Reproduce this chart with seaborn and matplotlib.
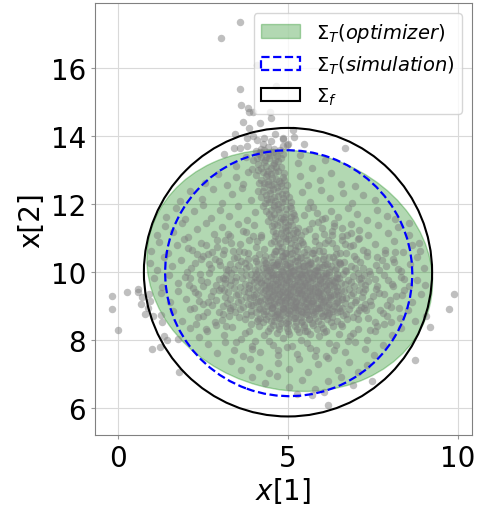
import pandas as pd
import matplotlib
matplotlib.use("Agg")
import matplotlib.pyplot as plt
from matplotlib.patches import Ellipse
import seaborn as sns

# ---- data ----
# ellipses: (center_x, center_y, width, height, angle)
ell_optimizer = (5.05, 10.05, 8.5, 7.0, -15)
ell_simulation = (5.02, 9.97, 7.28, 7.22, -20)
ell_final = (5.0, 10.0, 8.48, 8.48, 0)

# sample points, grouped by region of the cloud
outlier_pts = [
    (3.58, 17.34), (3.02, 16.87), (3.6, 15.38), (4.10, 16.09), (4.66, 15.48),
    (3.63, 14.91), (3.82, 14.83), (3.85, 14.7), (3.98, 14.71), (4.48, 14.7),
    (4.5, 14.53), (3.69, 14.4), (4.18, 14.38), (3.85, 14.24), (3.43, 14.05),
    (4.63, 14.07), (4.86, 13.93), (3.80, 13.95), (3.98, 13.99), (4.08, 13.88),
    (4.30, 13.93), (4.5, 13.86), (4.25, 13.76), (3.40, 13.64), (3.59, 13.64),
    (3.80, 13.71), (3.13, 13.47), (4.84, 13.71), (5.01, 13.76), (5.16, 14.19),
    (5.18, 13.96), (5.47, 13.76), (4.84, 13.91), (4.96, 13.74), (6.67, 13.64),
    (5.3, 13.22),
    (-0.18, 9.30), (-0.17, 8.93), (0.0, 8.31), (0.26, 9.42), (0.59, 9.5),
    (0.6, 9.42), (0.70, 9.26), (0.67, 9.07), (0.92, 9.36), (0.80, 8.78),
    (1.02, 8.71), (1.25, 8.73), (1.34, 8.13), (1.45, 8.01), (1.01, 7.74),
    (1.24, 7.79), (1.79, 7.08), (1.75, 8.03), (1.30, 8.55), (0.94, 9.16),
    (0.87, 8.96),
    (9.89, 9.36), (9.75, 8.91), (9.19, 8.40), (8.75, 7.41), (6.17, 6.09),
    (7.46, 6.80), (9.05, 8.71), (8.86, 10.87), (8.57, 11.44),
]

column_pts = [
    (4.05, 13.55), (4.3, 13.6), (4.55, 13.52), (4.75, 13.58), (4.2, 13.4),
    (4.45, 13.35), (4.68, 13.42), (3.98, 13.3), (4.12, 13.18), (4.35, 13.12),
    (4.58, 13.2), (4.8, 13.1), (4.25, 12.95), (4.5, 12.9), (4.72, 12.98),
    (4.05, 12.85), (4.2, 12.72), (4.42, 12.68), (4.65, 12.75), (4.88, 12.7),
    (4.3, 12.5), (4.55, 12.45), (4.78, 12.52), (4.12, 12.4), (4.35, 12.28),
    (4.6, 12.22), (4.82, 12.3), (5.02, 12.2), (4.45, 12.05), (4.7, 12.0),
    (4.92, 12.08), (4.25, 11.95), (4.5, 11.82), (4.73, 11.78), (4.95, 11.85),
    (5.15, 11.75), (4.62, 11.6), (4.85, 11.55), (5.08, 11.62), (4.4, 11.5),
    (4.68, 11.38), (4.9, 11.32), (5.12, 11.4), (5.3, 11.3), (4.55, 11.2),
    (4.8, 11.15), (5.02, 11.1), (5.25, 11.18), (4.7, 10.98), (4.95, 10.92),
    (5.18, 10.99), (5.4, 10.9), (4.5, 10.85), (4.82, 10.75), (5.05, 10.7),
    (5.3, 10.78), (5.55, 10.68), (4.65, 10.62),
    (4.15, 13.47), (4.4, 13.5), (4.62, 13.3), (4.3, 13.25), (4.5, 13.05),
    (4.35, 12.82), (4.6, 12.6), (4.4, 12.58), (4.7, 12.38), (4.5, 12.15),
    (4.8, 11.92), (4.6, 11.7), (4.95, 11.7), (4.75, 11.47), (5.0, 11.25),
    (4.85, 11.05), (5.1, 10.85), (4.9, 10.55),
    (4.22, 13.62), (4.48, 13.45), (4.6, 13.62), (4.85, 13.48), (4.1, 13.35),
    (4.35, 13.4), (4.72, 13.28), (4.2, 13.05), (4.4, 12.98), (4.65, 13.08),
    (4.88, 12.92), (4.15, 12.62), (4.52, 12.78), (4.78, 12.62), (4.25, 12.38),
    (4.48, 12.33), (4.68, 12.5), (4.92, 12.42), (4.38, 12.15), (4.62, 12.1),
    (4.85, 12.18), (5.1, 12.05), (4.35, 11.8), (4.6, 11.92), (4.88, 11.62),
    (5.05, 11.95), (4.5, 11.62), (5.22, 11.55), (4.58, 11.42), (4.82, 11.28),
    (5.05, 11.5), (5.2, 11.02), (4.62, 11.05), (4.95, 11.2), (5.38, 11.1),
    (4.75, 10.85), (5.0, 10.98), (5.25, 10.62), (5.45, 10.82), (4.8, 10.62),
    (4.18, 13.52), (4.42, 13.68), (4.66, 13.5), (4.32, 13.3), (4.55, 13.15),
    (4.78, 13.35), (4.12, 13.0), (4.38, 12.88), (4.62, 12.95), (4.85, 12.8),
    (4.28, 12.62), (4.51, 12.55), (4.74, 12.68), (4.96, 12.55), (4.22, 12.22),
    (4.46, 12.42), (4.7, 12.25), (4.95, 12.3), (4.32, 12.02), (4.58, 11.98),
    (4.82, 12.05), (5.08, 11.88), (4.45, 11.7), (4.7, 11.85), (4.92, 11.48),
    (5.18, 11.68), (4.52, 11.35), (4.78, 11.6), (5.0, 11.38), (5.22, 11.25),
    (4.65, 11.15), (4.9, 11.0), (5.14, 11.15), (5.35, 10.95), (4.58, 10.92),
    (4.85, 10.48), (5.12, 10.55), (5.38, 10.45), (4.7, 10.78), (5.2, 10.8),
    (5.6, 11.9), (5.85, 11.75), (6.1, 11.6), (6.35, 11.45), (6.6, 11.3),
    (6.85, 11.15), (7.1, 11.0), (5.7, 11.45), (6.0, 11.3), (6.3, 11.1),
    (6.6, 10.95), (6.9, 10.8), (7.2, 10.65), (5.5, 11.2), (5.8, 11.05),
    (6.1, 10.85), (6.4, 10.7), (6.7, 10.55),
    (3.7, 10.6), (4.05, 10.75), (3.85, 10.95), (4.2, 11.1), (3.5, 10.45),
    (5.7, 10.55), (5.9, 10.8), (6.2, 10.45), (6.5, 10.3),
]

core_pts = [
    (4.62, 10.63), (4.95, 10.57), (5.21, 10.66), (5.48, 10.59), (5.77, 10.64),
    (4.33, 10.47), (4.58, 10.54), (4.81, 10.48), (5.05, 10.53), (5.26, 10.45),
    (5.52, 10.51), (5.74, 10.55), (6.05, 10.48),
    (4.02, 10.42), (4.29, 10.37), (4.51, 10.44), (4.7, 10.36), (4.92, 10.41),
    (5.13, 10.38), (5.34, 10.43), (5.57, 10.35), (5.79, 10.42), (6.03, 10.39), (6.33, 10.44),
    (3.74, 10.27), (4.05, 10.33), (4.31, 10.26), (4.52, 10.31), (4.68, 10.25),
    (4.88, 10.34), (5.06, 10.28), (5.27, 10.32), (5.45, 10.26), (5.66, 10.3),
    (5.88, 10.35), (6.1, 10.27), (6.38, 10.32), (6.66, 10.29),
    (3.53, 10.22), (3.86, 10.17), (4.12, 10.24), (4.36, 10.15), (4.55, 10.21),
    (4.73, 10.18), (4.91, 10.25), (5.1, 10.16), (5.29, 10.22), (5.47, 10.19),
    (5.66, 10.24), (5.85, 10.15), (6.05, 10.21), (6.27, 10.18), (6.52, 10.23), (6.85, 10.17),
    (3.42, 10.08), (3.75, 10.13), (4.04, 10.06), (4.27, 10.12), (4.44, 10.05),
    (4.6, 10.14), (4.78, 10.08), (4.95, 10.11), (5.12, 10.04), (5.3, 10.13),
    (5.47, 10.07), (5.64, 10.12), (5.82, 10.05), (6.01, 10.14), (6.2, 10.08),
    (6.42, 10.11), (6.68, 10.06), (6.97, 10.12),
    (3.31, 9.98), (3.62, 10.03), (3.9, 9.96), (4.13, 10.04), (4.33, 9.97),
    (4.5, 10.02), (4.66, 9.95), (4.82, 10.04), (4.99, 9.99), (5.15, 10.03),
    (5.32, 9.96), (5.49, 10.01), (5.66, 9.97), (5.84, 10.04), (6.02, 9.98),
    (6.21, 10.02), (6.44, 9.95), (6.71, 10.03), (7.05, 9.99),
    (3.18, 9.92), (3.47, 9.87), (3.76, 9.93), (4.02, 9.86), (4.24, 9.91),
    (4.41, 9.88), (4.57, 9.94), (4.73, 9.86), (4.89, 9.92), (5.05, 9.87),
    (5.21, 9.93), (5.37, 9.88), (5.53, 9.91), (5.7, 9.85), (5.86, 9.93),
    (6.03, 9.89), (6.21, 9.92), (6.4, 9.86), (6.63, 9.94), (6.92, 9.88), (7.24, 9.91),
    (3.33, 9.78), (3.64, 9.83), (3.92, 9.76), (4.16, 9.82), (4.33, 9.77),
    (4.49, 9.84), (4.65, 9.76), (4.8, 9.81), (4.96, 9.78), (5.12, 9.83),
    (5.28, 9.75), (5.44, 9.82), (5.6, 9.79), (5.76, 9.84), (5.93, 9.77),
    (6.1, 9.82), (6.29, 9.76), (6.5, 9.83), (6.76, 9.78), (7.08, 9.81),
    (3.14, 9.68), (3.45, 9.73), (3.73, 9.66), (3.99, 9.72), (4.21, 9.67),
    (4.38, 9.74), (4.54, 9.66), (4.7, 9.71), (4.86, 9.68), (5.02, 9.73),
    (5.18, 9.65), (5.34, 9.72), (5.5, 9.69), (5.66, 9.74), (5.82, 9.66),
    (5.99, 9.71), (6.17, 9.67), (6.36, 9.73), (6.57, 9.68), (6.84, 9.72), (7.15, 9.67),
    (3.28, 9.62), (3.58, 9.57), (3.86, 9.63), (4.1, 9.56), (4.29, 9.61),
    (4.45, 9.58), (4.61, 9.64), (4.77, 9.56), (4.93, 9.62), (5.09, 9.57),
    (5.25, 9.63), (5.41, 9.58), (5.57, 9.61), (5.73, 9.55), (5.89, 9.63),
    (6.06, 9.58), (6.24, 9.62), (6.44, 9.56), (6.67, 9.64), (6.95, 9.58), (7.27, 9.61),
    (3.12, 9.48), (3.41, 9.53), (3.7, 9.46), (3.97, 9.52), (4.19, 9.47),
    (4.36, 9.54), (4.52, 9.46), (4.68, 9.51), (4.84, 9.48), (5.0, 9.53),
    (5.16, 9.45), (5.32, 9.52), (5.48, 9.49), (5.64, 9.54), (5.8, 9.46),
    (5.97, 9.51), (6.15, 9.47), (6.34, 9.53), (6.55, 9.48), (6.8, 9.52), (7.1, 9.47),
    (3.24, 9.42), (3.54, 9.37), (3.82, 9.43), (4.07, 9.36), (4.27, 9.41),
    (4.43, 9.38), (4.59, 9.44), (4.75, 9.36), (4.91, 9.42), (5.07, 9.37),
    (5.23, 9.43), (5.39, 9.38), (5.55, 9.41), (5.71, 9.35), (5.87, 9.43),
    (6.04, 9.38), (6.22, 9.42), (6.42, 9.36), (6.64, 9.44), (6.91, 9.38), (7.22, 9.41),
    (3.15, 9.28), (3.46, 9.33), (3.75, 9.26), (4.01, 9.32), (4.22, 9.27),
    (4.38, 9.34), (4.54, 9.26), (4.7, 9.31), (4.86, 9.28), (5.02, 9.33),
    (5.18, 9.25), (5.34, 9.32), (5.5, 9.29), (5.66, 9.34), (5.82, 9.26),
    (5.99, 9.31), (6.17, 9.27), (6.36, 9.33), (6.58, 9.28), (6.85, 9.32), (7.17, 9.27),
    (3.3, 9.22), (3.61, 9.17), (3.89, 9.23), (4.13, 9.16), (4.31, 9.21),
    (4.47, 9.18), (4.63, 9.24), (4.79, 9.16), (4.95, 9.22), (5.11, 9.17),
    (5.27, 9.23), (5.43, 9.18), (5.59, 9.21), (5.75, 9.15), (5.91, 9.23),
    (6.08, 9.18), (6.27, 9.22), (6.48, 9.16), (6.72, 9.24), (7.01, 9.18),
    (3.21, 9.08), (3.52, 9.13), (3.81, 9.06), (4.06, 9.12), (4.26, 9.07),
    (4.42, 9.14), (4.58, 9.06), (4.74, 9.11), (4.9, 9.08), (5.06, 9.13),
    (5.22, 9.05), (5.38, 9.12), (5.54, 9.09), (5.7, 9.14), (5.86, 9.06),
    (6.03, 9.11), (6.22, 9.07), (6.43, 9.13), (6.67, 9.08), (6.96, 9.12), (7.26, 9.07),
    (3.37, 9.02), (3.68, 8.97), (3.96, 9.03), (4.19, 8.96), (4.37, 9.01),
    (4.53, 8.98), (4.69, 9.04), (4.85, 8.96), (5.01, 9.02), (5.17, 8.97),
    (5.33, 9.03), (5.49, 8.98), (5.65, 9.01), (5.81, 8.95), (5.98, 9.03),
    (6.16, 8.98), (6.36, 9.02), (6.59, 8.96), (6.86, 9.04), (7.15, 8.98),
    (3.29, 8.88), (3.6, 8.93), (3.9, 8.86), (4.15, 8.92), (4.35, 8.87),
    (4.52, 8.94), (4.69, 8.86), (4.86, 8.91), (5.03, 8.88), (5.2, 8.93),
    (5.37, 8.85), (5.54, 8.92), (5.71, 8.89), (5.89, 8.94), (6.08, 8.86),
    (6.29, 8.91), (6.53, 8.87), (6.8, 8.93), (7.1, 8.88),
    (3.45, 8.82), (3.77, 8.77), (4.05, 8.83), (4.29, 8.76), (4.49, 8.81),
    (4.67, 8.78), (4.85, 8.84), (5.03, 8.76), (5.21, 8.82), (5.39, 8.77),
    (5.57, 8.83), (5.76, 8.78), (5.96, 8.81), (6.18, 8.75), (6.43, 8.83),
    (6.72, 8.78), (7.02, 8.81),
    (3.56, 8.68), (3.9, 8.73), (4.18, 8.66), (4.42, 8.72), (4.63, 8.67),
    (4.82, 8.74), (5.01, 8.66), (5.2, 8.71), (5.39, 8.68), (5.59, 8.73),
    (5.8, 8.65), (6.03, 8.72), (6.3, 8.67), (6.61, 8.73), (6.92, 8.68),
    (3.74, 8.62), (4.08, 8.57), (4.36, 8.63), (4.59, 8.56), (4.8, 8.61),
    (5.0, 8.58), (5.2, 8.64), (5.41, 8.56), (5.63, 8.62), (5.87, 8.57),
    (6.14, 8.63), (6.45, 8.58), (6.75, 8.61),
    (3.92, 8.48), (4.27, 8.53), (4.55, 8.46), (4.79, 8.52), (5.01, 8.47),
    (5.23, 8.54), (5.46, 8.46), (5.7, 8.51), (5.97, 8.48), (6.27, 8.53), (6.56, 8.47),
    (4.14, 8.42), (4.47, 8.37), (4.74, 8.43), (4.98, 8.36), (5.22, 8.41),
    (5.47, 8.38), (5.73, 8.44), (6.02, 8.36), (6.33, 8.42),
    (4.41, 8.28), (4.73, 8.33), (5.0, 8.26), (5.27, 8.32), (5.55, 8.27),
    (5.85, 8.33), (6.12, 8.28),
    (4.69, 8.22), (5.02, 8.17), (5.33, 8.23), (5.66, 8.18),
]

core_dense_pts = [
    (4.47, 9.63), (4.63, 9.47), (4.79, 9.58), (4.96, 9.43), (5.13, 9.66), (5.29, 9.49),
    (5.46, 9.61), (5.62, 9.44), (5.79, 9.57), (5.95, 9.46), (6.12, 9.62),
    (4.41, 9.27), (4.58, 9.12), (4.74, 9.35), (4.91, 9.19), (5.08, 9.31), (5.24, 9.14),
    (5.41, 9.36), (5.57, 9.22), (5.74, 9.09), (5.9, 9.29), (6.07, 9.16), (6.25, 9.34),
    (4.52, 8.96), (4.7, 8.83), (4.88, 9.01), (5.06, 8.87), (5.24, 8.98), (5.42, 8.84),
    (5.6, 9.0), (5.78, 8.86), (5.97, 8.99), (6.15, 8.82),
    (4.55, 9.84), (4.72, 9.95), (4.9, 9.79), (5.07, 9.93), (5.25, 9.8), (5.42, 9.96),
    (5.6, 9.82), (5.77, 9.94), (5.95, 9.81), (6.13, 9.9),
    (4.38, 10.05), (4.65, 10.2), (4.86, 10.02), (5.05, 10.18), (5.33, 10.09),
    (5.58, 10.21), (5.8, 10.03),
    (3.85, 9.55), (3.98, 9.28), (4.1, 9.78), (6.45, 9.45), (6.6, 9.2), (6.38, 9.7),
    (3.9, 9.05), (6.5, 8.95),
    (4.05, 9.95), (4.22, 9.72), (4.31, 9.48), (4.18, 9.15), (4.27, 8.85), (4.12, 8.62),
    (4.36, 10.27), (4.48, 10.12), (4.54, 9.92), (4.43, 9.55), (4.56, 9.32), (4.46, 9.05),
    (4.61, 8.75), (4.5, 8.58), (4.72, 10.31), (4.78, 9.88), (4.69, 9.66), (4.81, 9.41),
    (4.76, 9.18), (4.84, 8.95), (4.73, 8.66), (4.97, 10.21), (5.02, 9.97), (4.95, 9.71),
    (5.05, 9.52), (4.98, 9.27), (5.08, 9.05), (5.01, 8.79), (4.94, 8.52), (5.21, 10.33),
    (5.18, 10.07), (5.26, 9.85), (5.2, 9.6), (5.29, 9.39), (5.23, 9.12), (5.3, 8.9),
    (5.19, 8.66), (5.44, 10.17), (5.39, 9.93), (5.47, 9.71), (5.41, 9.5), (5.5, 9.24),
    (5.44, 9.02), (5.52, 8.77), (5.38, 8.55), (5.68, 10.27), (5.63, 10.01), (5.71, 9.78),
    (5.65, 9.56), (5.74, 9.33), (5.68, 9.08), (5.75, 8.83), (5.62, 8.62), (5.92, 10.14),
    (5.87, 9.89), (5.95, 9.67), (5.89, 9.42), (5.98, 9.2), (5.91, 8.94), (5.99, 8.7),
    (6.15, 10.23), (6.12, 9.97), (6.2, 9.74), (6.14, 9.52), (6.23, 9.28), (6.17, 9.04),
    (6.22, 8.8), (6.38, 10.05), (6.45, 9.82), (6.36, 9.58), (6.47, 9.33), (6.4, 9.1),
    (6.33, 8.87), (6.52, 10.28),
]

mid_pts = [
    (2.05, 10.71), (2.31, 10.52), (2.58, 10.79), (2.84, 10.38), (3.11, 10.66), (3.3, 10.23),
    (2.15, 10.12), (2.42, 9.94), (2.69, 10.25), (2.96, 9.81), (3.22, 10.05), (2.08, 9.63),
    (2.35, 9.35), (2.61, 9.72), (2.89, 9.18), (3.02, 9.55), (2.22, 8.95), (2.49, 8.71),
    (2.77, 9.04), (3.05, 8.6), (2.3, 8.48), (2.58, 8.32), (2.97, 8.83), (3.18, 8.42),
    (2.45, 10.4), (2.77, 10.58), (3.0, 10.2), (2.51, 9.58), (2.8, 9.45), (3.14, 9.8),
    (2.12, 9.82), (2.65, 9.12), (3.26, 8.72), (2.37, 9.15), (2.92, 10.96),
    (7.32, 10.48), (7.58, 10.22), (7.85, 10.55), (8.12, 10.31), (7.41, 9.94), (7.69, 10.06),
    (7.95, 9.77), (8.23, 10.09), (7.28, 9.51), (7.55, 9.79), (7.81, 9.37), (8.08, 9.58),
    (8.35, 9.32), (7.45, 9.05), (7.72, 8.88), (7.99, 9.19), (8.26, 8.95), (7.36, 8.65),
    (7.63, 8.41), (7.9, 8.72), (7.2, 10.12), (7.5, 9.3), (7.78, 10.35), (8.02, 8.55),
    (7.25, 8.95), (7.62, 9.6), (8.4, 9.8), (7.14, 9.82), (7.4, 8.3), (8.15, 10.6),
    (3.72, 8.21), (4.03, 7.98), (4.29, 8.15), (4.56, 7.86), (4.84, 8.07), (5.11, 7.83),
    (5.38, 8.02), (5.64, 7.78), (5.92, 8.12), (6.21, 7.91), (6.49, 8.18), (6.77, 7.97),
    (3.95, 7.75), (4.7, 7.72), (5.5, 8.28), (6.05, 8.25), (6.35, 7.7), (3.48, 7.95),
    (6.9, 8.2), (5.8, 7.55),
    (3.08, 10.52), (3.33, 10.86), (3.55, 10.62), (3.81, 10.39), (3.96, 11.05), (3.24, 11.12),
    (3.69, 11.21), (4.15, 10.52), (5.92, 10.62), (6.18, 10.96), (6.41, 10.52), (6.68, 10.84),
    (6.95, 10.49), (6.28, 11.22), (6.75, 11.1), (7.0, 10.38),
]

spread_pts = [
    (3.48, 13.12), (3.77, 13.38), (5.36, 13.44), (5.71, 13.07), (6.08, 13.29), (3.95, 13.02),
    (2.55, 12.61), (2.93, 12.88), (3.21, 12.55), (3.47, 12.79), (3.82, 12.93), (3.68, 12.58),
    (5.35, 12.83), (5.58, 12.56), (5.94, 12.71), (6.27, 12.92), (6.55, 12.6), (6.98, 12.52),
    (1.83, 12.09), (2.12, 12.38), (2.47, 12.16), (2.78, 12.44), (3.05, 12.03), (3.36, 12.29),
    (3.64, 12.47), (3.91, 12.12), (5.42, 12.35), (5.66, 12.07), (5.97, 12.41), (6.23, 12.19),
    (6.61, 12.33), (6.88, 12.04), (7.21, 12.27), (7.55, 12.11),
    (1.42, 11.63), (1.69, 11.88), (1.98, 11.55), (2.24, 11.79), (2.51, 11.97), (2.73, 11.58),
    (2.99, 11.83), (3.27, 11.66), (3.52, 11.94), (3.78, 11.52), (4.02, 11.77), (5.48, 11.69),
    (5.74, 11.93), (5.99, 11.56), (6.26, 11.81), (6.48, 11.62), (6.77, 11.9), (7.03, 11.71),
    (7.31, 11.53), (7.62, 11.84), (7.9, 11.64), (8.15, 11.57),
    (1.16, 11.09), (1.38, 11.36), (1.63, 11.17), (1.89, 11.44), (2.07, 11.03), (2.33, 11.28),
    (2.58, 11.46), (2.81, 11.11), (3.06, 11.33), (3.29, 11.05), (3.53, 11.41), (3.76, 11.19),
    (4.01, 11.38), (4.22, 11.04), (5.62, 11.27), (5.88, 11.48), (6.07, 11.12), (6.34, 11.35),
    (6.59, 11.06), (6.86, 11.42), (7.08, 11.24), (7.36, 11.08), (7.64, 11.39), (7.93, 11.16),
    (8.24, 11.33), (8.55, 11.1),
    (0.97, 10.62), (1.21, 10.88), (1.47, 10.57), (1.72, 10.79), (1.95, 10.98), (2.18, 10.64),
    (2.44, 10.86), (2.66, 10.53), (2.91, 10.74), (3.14, 10.95), (3.37, 10.61), (3.6, 10.83),
    (3.83, 10.56), (4.08, 10.91), (4.3, 10.69), (5.78, 10.92), (6.02, 10.63), (6.29, 10.87),
    (6.53, 10.55), (6.81, 10.78), (7.05, 10.97), (7.33, 10.6), (7.57, 10.84), (7.84, 10.66),
    (8.11, 10.93), (8.38, 10.58), (8.64, 10.81), (8.87, 10.63),
    (0.93, 10.27), (1.14, 10.06), (1.36, 10.44), (1.59, 10.18), (1.84, 10.37), (2.03, 10.02),
    (2.27, 10.26), (2.49, 10.47), (2.73, 10.11), (2.96, 10.33), (3.19, 10.08), (3.4, 10.42),
    (7.12, 10.29), (7.38, 10.04), (7.61, 10.45), (7.87, 10.19), (8.09, 10.38), (8.33, 10.03),
    (8.58, 10.24), (8.79, 10.46), (9.01, 10.13), (3.62, 10.34),
    (1.05, 9.82), (1.28, 9.56), (1.51, 9.93), (1.76, 9.68), (1.98, 9.87), (2.2, 9.53),
    (2.43, 9.76), (2.67, 9.97), (2.88, 9.61), (3.08, 9.84), (7.35, 9.73), (7.58, 9.52),
    (7.83, 9.91), (8.06, 9.64), (8.31, 9.86), (8.55, 9.58), (8.79, 9.78), (9.04, 9.62),
    (1.27, 9.38), (1.52, 9.13), (1.77, 9.45), (2.01, 9.22), (2.26, 9.41), (2.5, 9.06),
    (2.74, 9.29), (2.98, 9.48), (7.42, 9.16), (7.68, 9.39), (7.92, 9.05), (8.17, 9.31),
    (8.41, 9.47), (8.66, 9.12), (8.9, 9.35), (3.1, 9.02),
    (1.62, 8.86), (1.88, 8.58), (2.11, 8.93), (2.36, 8.69), (2.61, 8.84), (2.85, 8.53),
    (3.09, 8.77), (3.28, 8.95), (7.06, 8.63), (7.3, 8.88), (7.55, 8.55), (7.8, 8.79),
    (8.04, 8.97), (8.29, 8.66), (8.53, 8.89), (8.74, 8.58),
    (2.12, 8.37), (2.38, 8.09), (2.63, 8.28), (2.87, 8.46), (3.12, 8.14), (3.36, 8.39),
    (3.61, 8.03), (3.85, 8.26), (6.58, 8.43), (6.83, 8.11), (7.07, 8.34), (7.32, 8.02),
    (7.57, 8.27), (7.81, 8.48), (8.06, 8.16), (8.31, 8.35),
    (2.66, 7.88), (2.91, 7.62), (3.15, 7.94), (3.42, 7.71), (3.67, 7.55), (3.93, 7.83),
    (4.18, 7.66), (4.44, 7.97), (4.71, 7.58), (4.98, 7.79), (5.27, 7.61), (5.55, 7.92),
    (5.83, 7.7), (6.11, 7.53), (6.4, 7.86), (6.69, 7.64), (6.97, 7.95), (7.26, 7.73),
    (7.52, 7.57), (7.79, 7.85),
    (3.32, 7.38), (3.61, 7.12), (3.88, 7.44), (4.15, 7.21), (4.43, 7.03), (4.72, 7.33),
    (5.02, 7.16), (5.31, 7.46), (5.6, 7.08), (5.89, 7.29), (6.19, 7.49), (6.48, 7.14),
    (6.78, 7.36), (7.05, 7.07), (7.33, 7.27),
    (3.95, 6.91), (4.31, 6.73), (4.67, 6.95), (5.04, 6.62), (5.42, 6.84), (5.8, 6.56),
    (6.17, 6.79), (6.55, 6.93), (6.9, 6.68),
    (5.25, 6.43), (5.72, 6.38), (6.05, 6.49),
]

all_pts = outlier_pts + spread_pts + mid_pts + column_pts + core_pts + core_dense_pts
df = pd.DataFrame(all_pts, columns=["x1", "x2"])

# ---- style ----
sns.set_style("whitegrid", {"axes.edgecolor": "0.5", "xtick.bottom": True,
                            "ytick.left": True, "grid.color": "0.85"})
plt.rcParams["font.family"] = ["DejaVu Sans"]
plt.rcParams["text.color"] = "black"
plt.rcParams["xtick.color"] = "black"
plt.rcParams["ytick.color"] = "black"
plt.rcParams["axes.labelcolor"] = "black"

fig = plt.figure(figsize=(4.82, 5.06), dpi=100)
ax = fig.add_axes([0.197, 0.138, 0.782, 0.854])

cx, cy, w, h, ang = ell_optimizer
ax.add_patch(Ellipse((cx, cy), w, h, angle=ang, color="green", alpha=0.3,
                     label=r"$\Sigma_T(optimizer)$", zorder=1))

sns.scatterplot(data=df, x="x1", y="x2", color="gray", alpha=0.5, s=29,
                linewidth=0, ax=ax, zorder=2)

cx, cy, w, h, ang = ell_simulation
ax.add_patch(Ellipse((cx, cy), w, h, angle=ang, fill=False, edgecolor="blue",
                     linestyle="--", linewidth=1.6, label=r"$\Sigma_T(simulation)$", zorder=3))
cx, cy, w, h, ang = ell_final
ax.add_patch(Ellipse((cx, cy), w, h, angle=ang, fill=False, edgecolor="black",
                     linewidth=1.5, label=r"$\Sigma_f$", zorder=3))

ax.set_xlim(-0.68, 10.41)
ax.set_ylim(5.21, 17.91)
ax.set_xticks([0, 5, 10])
ax.set_yticks([6, 8, 10, 12, 14, 16])
ax.tick_params(labelsize=20, length=3, color="0.6")
ax.set_xlabel(r"$x[1]$", fontsize=20, labelpad=2)
ax.set_ylabel("x[2]", fontsize=20, labelpad=4)
ax.legend(loc="upper right", fontsize=14)

fig.savefig("out.png", dpi=100)
